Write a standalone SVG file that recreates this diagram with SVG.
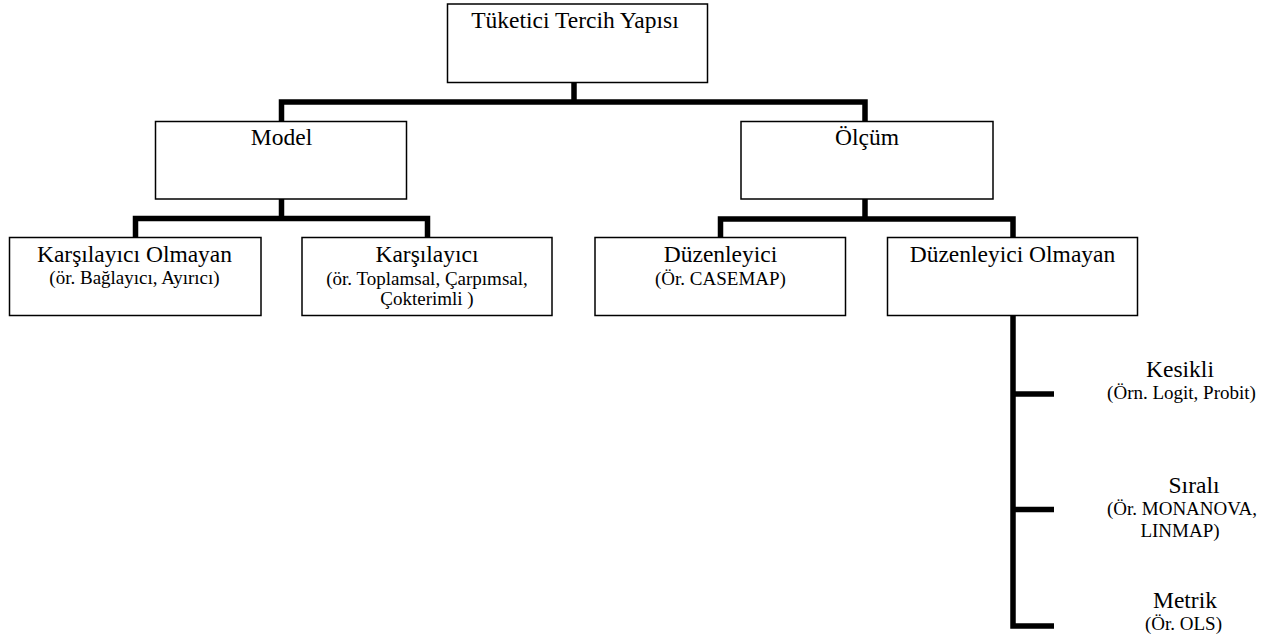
<svg xmlns="http://www.w3.org/2000/svg" width="1266" height="641" viewBox="0 0 1266 641">
<style>
.box{fill:#fff;stroke:#000;stroke-width:1.5}
.conn{fill:none;stroke:#000;stroke-width:5.5;stroke-linejoin:miter;stroke-linecap:butt}
text{fill:#000;text-anchor:middle}
.t{font-size:23.5px}
.s{font-size:19px}
</style>
<rect width="1266" height="641" fill="#fff"/>
<g id="connectors">
<path class="conn" d="M574,83 V102"/>
<path class="conn" d="M281.5,121 V102 H865 V121"/>
<path class="conn" d="M281.5,199 V218.5"/>
<path class="conn" d="M135.5,237 V218.5 H427.5 V237"/>
<path class="conn" d="M865,199 V219"/>
<path class="conn" d="M720.5,237 V219 H1013 V237"/>
<path class="conn" d="M1013,316 V626 H1054"/>
<path class="conn" d="M1013,394 H1054"/>
<path class="conn" d="M1013,509.5 H1054"/>
</g>
<g font-family="'Liberation Serif', 'DejaVu Serif', serif">
<g id="root">
<rect class="box" x="447.5" y="4" width="260" height="78.5"/>
<text class="t" x="575" y="27.5">Tüketici Tercih Yapısı</text>
</g>
<g id="model">
<rect class="box" x="155.5" y="121.5" width="251" height="77.5"/>
<text class="t" x="281.5" y="145">Model</text>
</g>
<g id="olcum">
<rect class="box" x="741" y="121.5" width="252" height="77.5"/>
<text class="t" x="867" y="145">Ölçüm</text>
</g>
<g id="karsilayici-olmayan">
<rect class="box" x="9.5" y="237.5" width="251.5" height="78"/>
<text class="t" x="134.5" y="262">Karşılayıcı Olmayan</text>
<text class="s" x="134.5" y="284">(ör. Bağlayıcı, Ayırıcı)</text>
</g>
<g id="karsilayici">
<rect class="box" x="302" y="237.5" width="250" height="78"/>
<text class="t" x="427" y="262">Karşılayıcı</text>
<text class="s" x="427" y="284.5">(ör. Toplamsal, Çarpımsal,</text>
<text class="s" x="427" y="305">Çokterimli )</text>
</g>
<g id="duzenleyici">
<rect class="box" x="595" y="237.5" width="250.5" height="78"/>
<text class="t" x="720.5" y="262">Düzenleyici</text>
<text class="s" x="720.5" y="284.5">(Ör. CASEMAP)</text>
</g>
<g id="duzenleyici-olmayan">
<rect class="box" x="887.5" y="237.5" width="250" height="78"/>
<text class="t" x="1012.5" y="262">Düzenleyici Olmayan</text>
</g>
<g id="kesikli">
<text class="t" x="1180" y="376.5">Kesikli</text>
<text class="s" x="1181.5" y="398.5">(Örn. Logit, Probit)</text>
</g>
<g id="sirali">
<text class="t" x="1194" y="493">Sıralı</text>
<text class="s" x="1182" y="515">(Ör. MONANOVA,</text>
<text class="s" x="1180" y="536.5">LINMAP)</text>
</g>
<g id="metrik">
<text class="t" x="1185" y="608">Metrik</text>
<text class="s" x="1183.5" y="630">(Ör. OLS)</text>
</g>
</g>
</svg>
